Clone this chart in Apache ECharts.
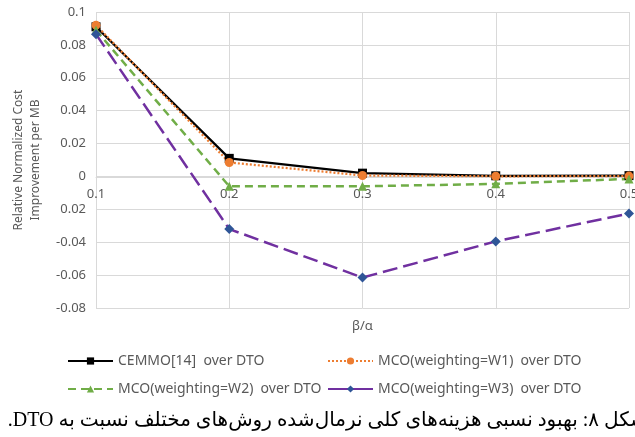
<!DOCTYPE html>
<html>
<head>
<meta charset="utf-8">
<script src="https://cdn.jsdelivr.net/npm/echarts@6/dist/echarts.min.js"></script>
<style>
  html, body { margin: 0; padding: 0; background: #fff; }
  #chart { width: 635px; height: 437px; }
</style>
</head>
<body>
<div id="chart"></div>
<script>
const categories = ['0.1', '0.2', '0.3', '0.4', '0.5']

const cemmo = [0.091, 0.011, 0.002, 0.0004, 0.0005]
const w1 = [0.092, 0.0085, 0.0006, 0.0001, 0.0002]
const w2 = [0.089, -0.006, -0.006, -0.0045, -0.0015]
const w3 = [0.0865, -0.032, -0.0615, -0.0395, -0.0225]

const seriesNames = [
  'CEMMO[14]  over DTO',
  'MCO(weighting=W1)  over DTO',
  'MCO(weighting=W2)  over DTO',
  'MCO(weighting=W3)  over DTO',
]

// tick labels as printed in the figure (the -0.02 label lost its minus there)
const yTickLabels = {
  '-0.08': '-0.08', '-0.06': '-0.06', '-0.04': '-0.04', '-0.02': '0.02', '0': '0',
  '0.02': '0.02', '0.04': '0.04', '0.06': '0.06', '0.08': '0.08', '0.1': '0.1',
}

const caption = '\u202Bشکل ۸: بهبود نسبی هزینه‌های کلی نرمال‌شده روش‌های مختلف نسبت به DTO.\u202C'

const grey = '#595959'
const gridColor = '#d9d9d9'
const font = 'Noto Sans'

const chart = echarts.init(document.getElementById('chart'))

const legendPos = [
  { left: 62, top: 349 },
  { left: 322, top: 349 },
  { left: 62, top: 377 },
  { left: 322, top: 377 },
]

const legends = seriesNames.map((name, i) => ({
  ...legendPos[i],
  itemWidth: 45,
  itemHeight: 9,
  itemGap: 0,
  textStyle: { color: grey, fontSize: 14, fontFamily: font },
  data: i === 3 ? [{ name, lineStyle: { type: 'solid' } }] : [name],
  selectedMode: false,
}))

const fmtY = (v) => {
  const key = String(Math.round(v * 100) / 100)
  return yTickLabels[key] ?? key
}

chart.setOption({
  animation: false,
  grid: { left: 96, right: 6, top: 12, bottom: 129, outerBoundsMode: 'none' },
  legend: legends,
  xAxis: {
    type: 'category',
    data: categories,
    boundaryGap: false,
    // onZero is not honoured here, so lift the axis from the bottom up to y = 0
    offset: -131,
    name: 'β/α',
    nameLocation: 'middle',
    nameGap: 143,
    nameTextStyle: { color: grey, fontSize: 13, fontFamily: font },
    axisLine: { show: true, onZero: false, lineStyle: { color: gridColor } },
    axisTick: { show: false },
    axisLabel: { color: grey, fontSize: 13, fontFamily: font, margin: 11 },
    splitLine: { show: true, lineStyle: { color: gridColor } },
  },
  yAxis: {
    type: 'value',
    min: -0.08,
    max: 0.1,
    interval: 0.02,
    name: 'Relative Normalized Cost\nImprovement per MB',
    nameLocation: 'middle',
    nameGap: 52,
    nameTextStyle: { color: grey, fontSize: 12, fontFamily: font, lineHeight: 17 },
    axisLine: { show: false },
    axisTick: { show: false },
    axisLabel: { color: grey, fontSize: 13, fontFamily: font, margin: 10, formatter: fmtY },
    splitLine: { lineStyle: { color: gridColor } },
  },
  series: [
    {
      name: seriesNames[0],
      type: 'line',
      data: cemmo,
      symbol: 'rect',
      symbolSize: 9,
      lineStyle: { color: '#000000', width: 2.25 },
      itemStyle: { color: '#000000' },
    },
    {
      name: seriesNames[1],
      type: 'line',
      data: w1,
      symbol: 'circle',
      symbolSize: 9,
      lineStyle: { color: '#ED7D31', width: 2.25, type: [2, 2] },
      itemStyle: { color: '#ED7D31' },
    },
    {
      name: seriesNames[2],
      type: 'line',
      data: w2,
      symbol: 'triangle',
      symbolSize: 9,
      lineStyle: { color: '#70AD47', width: 2.5, type: [8, 5] },
      itemStyle: { color: '#70AD47' },
    },
    {
      name: seriesNames[3],
      type: 'line',
      data: w3,
      symbol: 'diamond',
      symbolSize: 10,
      lineStyle: { color: '#7030A0', width: 2.5, type: [15, 6] },
      itemStyle: { color: '#2F5597' },
    },
  ],
  graphic: [
    {
      type: 'text',
      right: -12,
      top: 411,
      style: {
        text: caption,
        fontSize: 20,
        fontFamily: 'Liberation Serif, DejaVu Sans',
        fill: '#000000',
      },
    },
  ],
})
</script>
</body>
</html>
